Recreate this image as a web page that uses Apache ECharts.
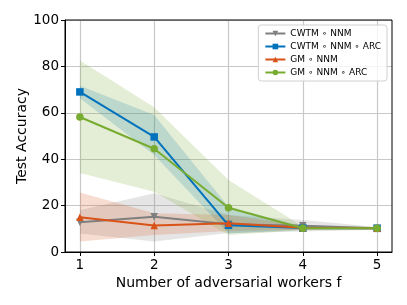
<!DOCTYPE html>
<html><head><meta charset="utf-8">
<script src="https://cdn.jsdelivr.net/npm/echarts@6/dist/echarts.min.js"></script>
<style>html,body{margin:0;padding:0;background:#fff}#c{width:407px;height:305px}</style>
</head><body><div id="c"></div>
<script>
const xValues = [1, 2, 3, 4, 5];
const seriesNames = ['CWTM ∘ NNM', 'CWTM ∘ NNM ∘ ARC', 'GM ∘ NNM', 'GM ∘ NNM ∘ ARC'];
const cwtmNnm = [12.8, 15.2, 12.0, 11.3, 10.2];
const cwtmNnmArc = [69.0, 49.6, 11.5, 10.3, 10.2];
const gmNnm = [15.0, 11.4, 12.4, 10.5, 10.2];
const gmNnmArc = [58.2, 44.5, 19.1, 10.2, 10.2];
const cwtmNnmLow = [8.0, 4.5, 8.2, 8.8, 9.6];
const cwtmNnmHigh = [18.0, 25.3, 16.0, 13.8, 10.8];
const cwtmNnmArcLow = [66.3, 41.8, 8.0, 9.6, 9.8];
const cwtmNnmArcHigh = [71.7, 59.0, 19.5, 11.0, 10.6];
const gmNnmLow = [4.5, 7.3, 9.0, 9.6, 9.8];
const gmNnmHigh = [25.6, 16.7, 16.0, 11.4, 10.6];
const gmNnmArcLow = [34.0, 26.0, 7.3, 9.4, 9.8];
const gmNnmArcHigh = [82.5, 62.4, 31.0, 11.0, 10.6];
const yTicks = [0, 20, 40, 60, 80, 100];

const colors = ['#7f7f7f', '#0072BD', '#D95319', '#77AC30'];
const fills = ['rgba(127,127,127,0.2)', 'rgba(0,114,189,0.2)', 'rgba(217,83,25,0.2)', 'rgba(119,172,48,0.2)'];
const means = [cwtmNnm, cwtmNnmArc, gmNnm, gmNnmArc];
const lows = [cwtmNnmLow, cwtmNnmArcLow, gmNnmLow, gmNnmArcLow];
const highs = [cwtmNnmHigh, cwtmNnmArcHigh, gmNnmHigh, gmNnmArcHigh];
const symbols = ['triangle', 'rect', 'triangle', 'circle'];
const rotates = [180, 0, 0, 0];

const chart = echarts.init(document.getElementById('c'), null, {renderer: 'canvas'});
const series = [];
for (let k = 0; k < 4; k++) {
  series.push({
    type: 'custom',
    name: seriesNames[k] + ' band',
    z: 1 + k,
    silent: true,
    clip: true,
    data: [0],
    renderItem: function (params, api) {
      const pts = [];
      for (let i = 0; i < xValues.length; i++) pts.push(api.coord([xValues[i], highs[k][i]]));
      for (let i = xValues.length - 1; i >= 0; i--) pts.push(api.coord([xValues[i], lows[k][i]]));
      return {type: 'polygon', shape: {points: pts}, style: {fill: fills[k], stroke: null}};
    }
  });
}
for (let k = 0; k < 4; k++) {
  series.push({
    type: 'line',
    name: seriesNames[k],
    z: 10 + k,
    data: xValues.map((x, i) => [x, means[k][i]]),
    symbol: symbols[k],
    symbolRotate: rotates[k],
    symbolSize: 7.5,
    showAllSymbol: true,
    itemStyle: {color: colors[k]},
    lineStyle: {color: colors[k], width: 2},
    animation: false
  });
}

chart.setOption({
  animation: false,
  textStyle: {fontFamily: 'DejaVu Sans'},
  grid: {left: 65, right: 15, top: 20, bottom: 53, containLabel: false},
  legend: {
    data: seriesNames,
    orient: 'vertical',
    right: 20,
    top: 25,
    itemWidth: 20,
    itemHeight: 7,
    itemGap: 4,
    padding: [4, 6, 4, 6],
    borderColor: '#d0d0d0',
    borderWidth: 1,
    borderRadius: 3,
    backgroundColor: 'rgba(255,255,255,0.8)',
    textStyle: {fontSize: 9, color: '#000', fontFamily: 'DejaVu Sans'}
  },
  xAxis: {
    type: 'value',
    min: 0.8,
    max: 5.2,
    name: 'Number of adversarial workers f',
    nameLocation: 'middle',
    nameGap: 24,
    nameMoveOverlap: false,
    nameTextStyle: {fontSize: 14, color: '#000'},
    axisLine: {show: true, onZero: false, lineStyle: {color: '#000', width: 1}},
    axisTick: {show: true, inside: false, length: 4, lineStyle: {color: '#000'}, customValues: xValues},
    axisLabel: {fontSize: 13.5, color: '#000', margin: 6, customValues: xValues},
    splitLine: {show: true, lineStyle: {color: '#c8c8c8', width: 1.2}}
  },
  yAxis: {
    type: 'value',
    min: 0,
    max: 100,
    interval: 20,
    name: 'Test Accuracy',
    nameLocation: 'middle',
    nameGap: 36,
    nameMoveOverlap: false,
    nameTextStyle: {fontSize: 14, color: '#000'},
    axisLine: {show: true, lineStyle: {color: '#000', width: 1}},
    axisTick: {show: true, inside: false, length: 4, lineStyle: {color: '#000'}},
    axisLabel: {fontSize: 13.5, color: '#000', margin: 6, customValues: yTicks},
    splitLine: {show: true, lineStyle: {color: '#c8c8c8', width: 1.2}}
  },
  series: series,
  graphic: [{
    type: 'rect', silent: true, z: 100,
    shape: {x: 65, y: 20, width: 327, height: 232},
    style: {fill: 'none', stroke: '#000', lineWidth: 1}
  }]
});
</script></body></html>
